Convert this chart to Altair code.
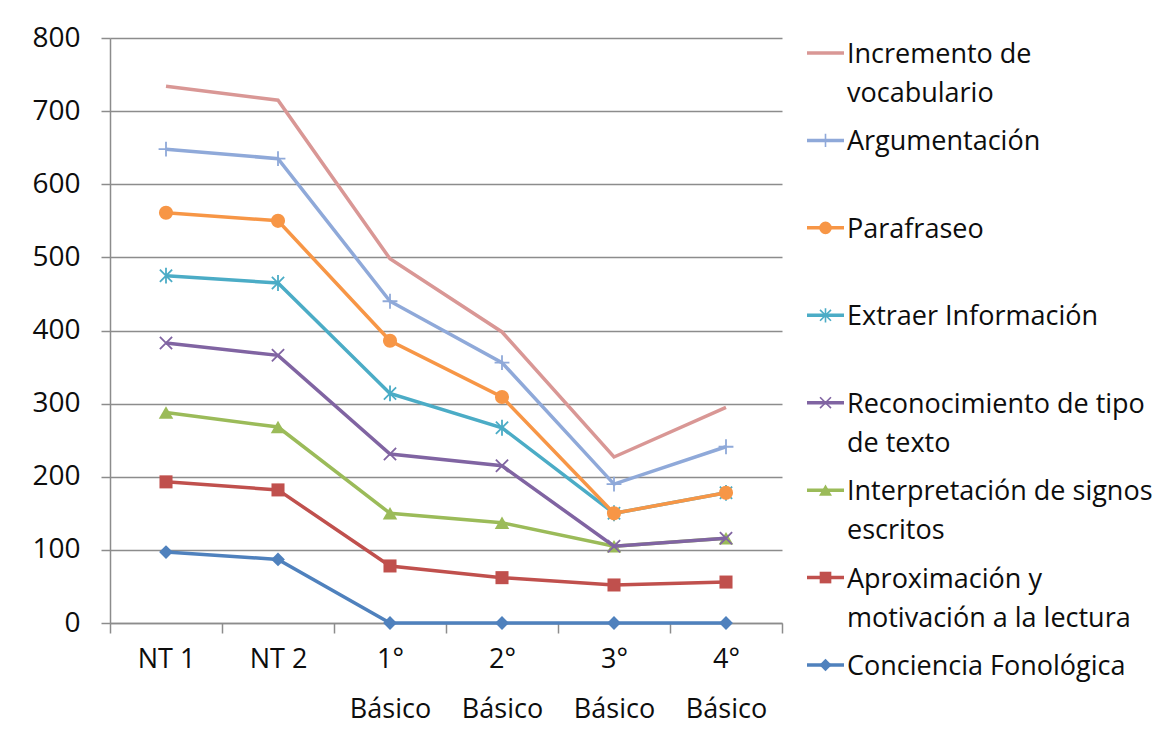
import altair as alt
import pandas as pd

# ---- data (cumulative stacked values) ----
categories = ["NT 1", "NT 2", "1°\nBásico", "2°\nBásico", "3°\nBásico", "4°\nBásico"]

conciencia = [97, 87, 0, 0, 0, 0]
aproximacion = [193, 182, 78, 62, 52, 56]
interpretacion = [288, 268, 150, 137, 105, 116]
reconocimiento = [383, 366, 231, 215, 105, 116]
extraer = [475, 465, 314, 267, 150, 178]
parafraseo = [561, 550, 386, 309, 150, 178]
argumentacion = [648, 635, 440, 356, 190, 241]
incremento = [734, 715, 498, 398, 227, 295]

series_names = [
    "Conciencia Fonológica",
    "Aproximación y motivación a la lectura",
    "Interpretación de signos escritos",
    "Reconocimiento de tipo de texto",
    "Extraer Información",
    "Parafraseo",
    "Argumentación",
    "Incremento de vocabulario",
]
series_values = [conciencia, aproximacion, interpretacion, reconocimiento,
                 extraer, parafraseo, argumentacion, incremento]
legend_labels = [
    "Conciencia Fonológica",
    "Aproximación y\nmotivación a la lectura",
    "Interpretación de signos\nescritos",
    "Reconocimiento de tipo\nde texto",
    "Extraer Información",
    "Parafraseo",
    "Argumentación",
    "Incremento de\nvocabulario",
]
colors = ["#4F81BD", "#C0504D", "#9BBB59", "#8064A2", "#4BACC6", "#F79646", "#8FA9D9", "#D99795"]
shapes = ["diamond", "square", "triangle-up",
          "M-1,-1L1,1M-1,1L1,-1",
          "M-1,-1L1,1M-1,1L1,-1M0,-1.3L0,1.3",
          "circle",
          "M-1,0L1,0M0,-1L0,1",
          None]
filled = [True, True, True, False, False, True, False, False]
sizes = [190, 170, 210, 150, 150, 200, 220, 0]

FONT = "Open Sans"
GRAY = "#8C8C8C"
TXT = "#0d0d0d"

rows = []
for name, vals in zip(series_names, series_values):
    for c, v in zip(categories, vals):
        rows.append({"cat": c, "serie": name, "value": v})
df = pd.DataFrame(rows)

x_enc = alt.X(
    "cat:N", sort=categories, bandPosition=0.5,
    scale=alt.Scale(type="band", paddingInner=0, paddingOuter=0),
    axis=alt.Axis(title=None, labelAngle=0, tickBand="extent", grid=False,
                  labelExpr="split(datum.label, '\\n')",
                  labelFont=FONT, labelFontSize=27, labelColor=TXT,
                  labelLineHeight=50, labelPadding=13, labelBaseline="top",
                  tickSize=10, tickColor=GRAY, tickWidth=1.5,
                  domainColor=GRAY, domainWidth=1.5),
)
y_enc = alt.Y(
    "value:Q", scale=alt.Scale(domain=[0, 800], nice=False),
    axis=alt.Axis(title=None, values=list(range(0, 801, 100)), grid=True,
                  gridColor=GRAY, gridWidth=1.5,
                  labelFont=FONT, labelFontSize=28, labelColor=TXT,
                  labelPadding=21, tickSize=9, tickColor=GRAY, tickWidth=1.5,
                  domainColor=GRAY, domainWidth=1.5),
)

layers = []
for i, name in enumerate(series_names):
    sub = df[df["serie"] == name]
    base = alt.Chart(sub).encode(x=x_enc, y=y_enc)
    layers.append(base.mark_line(color=colors[i], strokeWidth=3.5))
    if shapes[i] is not None:
        if filled[i]:
            pm = base.mark_point(shape=shapes[i], filled=True, color=colors[i],
                                 size=sizes[i], opacity=1)
        else:
            pm = base.mark_point(shape=shapes[i], filled=False, color=colors[i],
                                 size=sizes[i], strokeWidth=1.8, opacity=1)
        layers.append(pm)

main = alt.layer(*layers).properties(width=672, height=585)

# ---- custom legend (Excel style: line + marker + wrapped label) ----
leg_order = list(reversed(series_names))
leg_rows = []
for i, name in enumerate(series_names):
    leg_rows.append({"serie": name, "label": legend_labels[i]})
leg_df = pd.DataFrame(leg_rows)

ly = alt.Y("serie:N", sort=leg_order, axis=None,
           scale=alt.Scale(type="point", padding=0.172))
leg_layers = []
for i, name in enumerate(series_names):
    sub = leg_df[leg_df["serie"] == name]
    b = alt.Chart(sub).encode(y=ly)
    leg_layers.append(b.mark_rule(color=colors[i], strokeWidth=3.5).encode(
        x=alt.value(0), x2=alt.value(37)))
    if shapes[i] is not None:
        if filled[i]:
            leg_layers.append(b.mark_point(shape=shapes[i], filled=True, color=colors[i],
                                           size=sizes[i] * 0.8, opacity=1).encode(x=alt.value(18.5)))
        else:
            leg_layers.append(b.mark_point(shape=shapes[i], filled=False, color=colors[i],
                                           size=sizes[i] * 0.8, strokeWidth=1.6, opacity=1).encode(x=alt.value(18.5)))
    leg_layers.append(b.mark_text(align="left", baseline="alphabetic", dy=10, lineBreak="\n",
                                  lineHeight=39, font=FONT, fontSize=27, color=TXT).encode(
        x=alt.value(40), text="label:N"))

legend = alt.layer(*leg_layers).properties(width=320, height=642)

chart = alt.hconcat(main, legend, spacing=22).properties(
    padding={"top": 16, "left": 23, "right": 0, "bottom": 8},
    background="white",
).configure_view(stroke=None)

chart.save("out.html", embed_options={"renderer": "svg", "actions": False})
